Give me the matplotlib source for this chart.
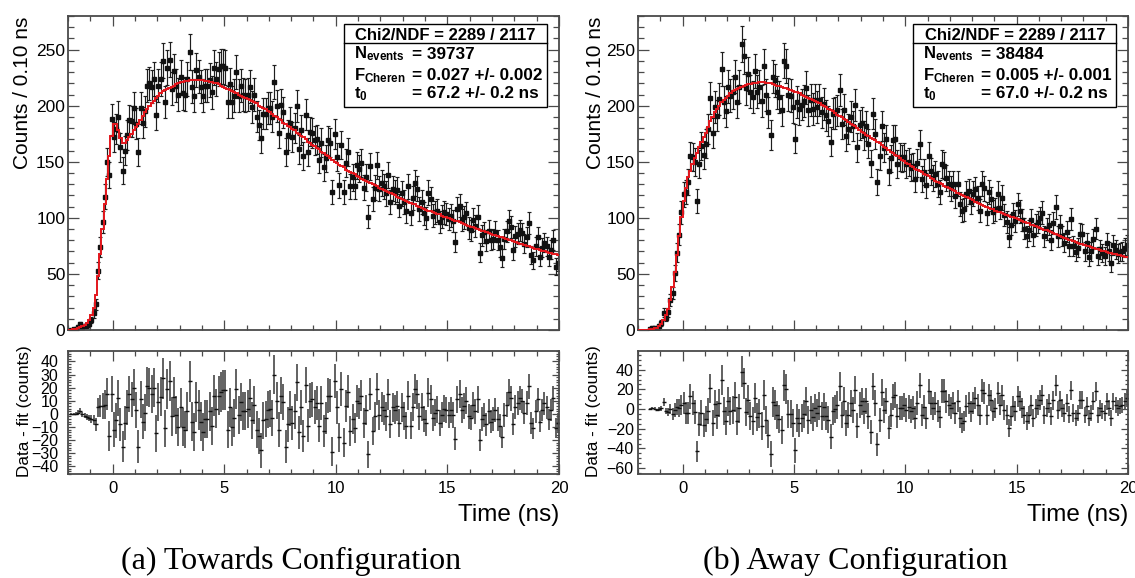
import numpy as np
import matplotlib
matplotlib.use("Agg")
import matplotlib.pyplot as plt
from matplotlib.ticker import MultipleLocator
from matplotlib.patches import Rectangle

plt.rcParams['font.family'] = ['Liberation Sans', 'DejaVu Sans']
plt.rcParams['mathtext.fontset'] = 'custom'
plt.rcParams['mathtext.rm'] = 'Liberation Sans'
plt.rcParams['mathtext.bf'] = 'Liberation Sans:bold'
plt.rcParams['mathtext.it'] = 'Liberation Sans:italic'

# histogram binning: 0.1 ns bins from -2 to 20 ns
bin_lo, bin_width, n_bins = -2.0, 0.1, 220

# ---- (a) Towards configuration ----
# fit curve, one value per bin (-1.95 ... 19.95)
towards_fit = [
    0.2, 0.4, 0.7, 1.1, 1.7, 2.5, 3.5, 4.8, 6.5, 9,
    13, 20, 31, 48, 68, 90, 112, 135, 155, 173,
    184, 184, 178, 171, 167, 167, 169, 172, 175, 178,
    181, 184, 187, 191, 194, 197, 200, 202, 204, 207,
    209, 211, 213, 214, 215, 216, 217, 218, 219, 220,
    221, 221, 222, 222, 223, 223, 223, 223, 223, 223,
    223, 222, 222, 221, 221, 220, 220, 219, 218, 217,
    216, 215, 214, 213, 212, 211, 210, 209, 208, 207,
    206, 205, 204, 203, 202, 200, 199, 198, 197, 195,
    194, 193, 191, 190, 188, 187, 185, 184, 182, 181,
    179, 178, 176, 175, 173, 172, 170, 168, 167, 165,
    164, 162, 161, 159, 158, 156, 155, 153, 152, 150,
    149, 147, 146, 145, 143, 142, 141, 140, 139, 137,
    136, 135, 134, 133, 132, 131, 130, 129, 128, 127,
    126, 125, 124, 123, 122, 121, 120, 119, 118, 117,
    116, 115, 114, 113, 112.5, 112, 111, 110, 109, 108,
    107, 106.5, 106, 105, 104, 103.5, 103, 102, 101, 100.5,
    100, 99, 98, 97.5, 97, 96, 95, 94.5, 94, 93,
    92, 91.5, 91, 90, 89, 88.5, 88, 87, 86.5, 86,
    85, 84.5, 84, 83, 82.5, 82, 81, 80.5, 80, 79,
    78.5, 78, 77, 76.5, 76, 75, 74.5, 74, 73, 72.5,
    72, 71, 70.5, 70, 69.5, 69, 68.5, 68, 67.5, 67,
]
# data - fit, first filled bin at -1.85 ns
towards_first = -1.85
towards_resid = [
    0, 0, 0, 1, 2.5, -0.5, -1.5, -2.5, -3.5, -4,
    -5, -8, 5, 6, 6, 7, 15, -17, 15, -12,
    -5, 12, -8, -25, -7, 5, 15, 11, 20, 3,
    -25, 11, -6, 1, 21, 20, 15, 20, -15, 9,
    13, 27, -11, 19, 25, -2, 13, -1, -10, 5,
    -10, -12, 2, 25, -6, -14, 9, 3, -6, -14,
    -4, -4, 2, -9, 14, 4, 14, 17, 18, 18,
    -12, 5, -10, -3, 19, -1, 9, 2, 2, 4,
    12, -5, 7, -12, -17, -28, -5, -4, 3, 4,
    -3, 30, 10, -12, 14, 9, -25, -8, 4, -7,
    2, 24, -14, 5, -17, 22, -9, 10, 11, 5,
    8, -9, 8, -13, -3, 14, 14, -29, 25, 5,
    -18, 19, -22, 6, 17, -13, -4, -11, 10, 8,
    14, -7, 3, -31, 15, -13, -2, 19, -1, 5,
    3, -2, 15, -8, 5, 3, 6, -7, 5, -2,
    -9, 14, -9, 5, 19, 15, -2, 5, -4, -7,
    16, 11, -3, 1, 3, -7, -1, 4, 3, -1,
    3, -1, -19, 11, 15, 3, 6, 10, -2, -3,
    7, 2, 11, -20, -4, -1, -8, 2, -6, -4,
    3, -4, -9, -18, -1, 7, 17, 12, -8, 5,
    8, 12, 10, 1, 8, 21, -7, -11, 2, 11,
    -6, 3, 8, 5, -4, 3, 12, -11, -7,
]
towards_stats = ["39737", "0.027 +/- 0.002", "67.2 +/- 0.2 ns"]

# ---- (b) Away configuration ----
away_fit = [
    0, 0.05, 0.1, 0.2, 0.4, 0.7, 1.0, 1.5, 2.2, 3.5,
    5.5, 8.5, 13, 19, 27, 38, 52, 67, 84, 101,
    115, 127, 136, 142, 148, 153, 158, 163, 168, 172,
    176, 181, 186, 190, 194, 197, 200, 203, 205, 207,
    209, 211, 213, 214, 215, 216, 217, 218, 218.5, 219,
    219.5, 220, 220, 220.5, 221, 221, 221, 220.5, 220, 220,
    219, 218.5, 218, 217.5, 217, 216, 215.5, 215, 214, 213,
    212.5, 212, 211, 210, 209, 208, 207, 206, 205, 204,
    203, 202, 201, 199.5, 198.5, 197.5, 196, 195, 193.5, 192,
    191, 189.5, 188.5, 187, 185.5, 184, 183, 181.5, 180, 178.5,
    177, 175.5, 174, 173, 171.5, 170, 169, 168, 166.5, 165,
    163.5, 162, 160.5, 159, 157.5, 156, 155, 153.5, 152, 150.5,
    149, 148, 146.5, 145, 144, 143, 141.5, 140.5, 139, 138,
    137, 135.5, 134.5, 133, 132, 131, 130, 128.5, 127.5, 126.5,
    125.5, 124.5, 123.5, 122.5, 121.5, 120.5, 119.5, 118.5, 117.5, 116.5,
    115.5, 114.5, 113.5, 112.5, 111.5, 110.5, 110, 109, 108, 107.5,
    106.5, 105.5, 105, 104, 103.5, 102.5, 102, 101, 100.5, 99.5,
    99, 98, 97, 96.5, 95.5, 95, 94, 93.5, 92.5, 92,
    91, 90.5, 89.5, 89, 88, 87, 86.5, 85.5, 84.5, 84,
    83, 82, 81.5, 80.5, 80, 79, 78.5, 77.5, 77, 76.5,
    76, 75, 74.5, 74, 73, 72.5, 72, 71, 70.5, 70,
    69.5, 69, 68.5, 68, 67.5, 67, 66.5, 66, 65.5, 65,
]
away_first = -1.45
away_resid = [
    0, 1, 0.5, -1, 0, 1, 7, -2, -3, 0,
    -5, -1, 2, 1, 4, 6, -4, -4, 13, 6,
    -3, -43, -15, -4, -16, -10, -2, 21, -14, 5,
    -6, 6, 30, -2, -12, 8, -2, -1, 12, -12,
    1, 38, 26, -3, 9, -7, -12, 11, -8, -4,
    -17, 14, -11, -26, -46, 7, 4, -6, -10, -21,
    24, 20, -5, -5, -14, -42, -9, -14, -9, -5,
    8, -11, -1, -8, 1, -4, 3, -7, 2, -7,
    -11, -28, -2, 0, 4, 23, -6, 8, -14, -6,
    6, -1, 19, -17, 4, 8, -2, 8, -7, -23,
    23, 6, -36, -11, 17, -1, 8, -19, -6, 12,
    14, -7, 1, 1, 4, -1, 2, -2, 1, -9,
    6, 24, -6, 2, -9, 18, 6, 1, 6, -2,
    -8, 18, 18, 8, 4, 1, 6, -4, 8, -9,
    -14, -12, 3, 6, -2, 6, 11, 4, -6, 19,
    16, -6, 14, 9, -2, 1, 16, 4, 14, -1,
    -6, -19, -7, 3, -2, 13, 8, 1, -6, -12,
    -6, 4, -9, 1, 4, 9, 14, -6, 1, 6,
    -7, 9, 24, -1, 9, 1, -4, 6, -6, 19,
    -4, -9, -4, 9, 9, -6, 3, -9, -4, 8,
    18, -6, 1, -2, -4, 8, 1, -9, 8, 4,
    1, 3, 4, 8, 11,
]
away_stats = ["38484", "0.005 +/- 0.001", "67.0 +/- 0.2 ns"]

chi2_text = "Chi2/NDF = 2289 / 2117"
stat_names = [r"$\mathbf{N}_{\mathbf{events}}$", r"$\mathbf{F}_{\mathbf{Cheren}}$",
              r"$\mathbf{t}_{\mathbf{0}}$"]

FRAME = "#4a4a4a"
RED = "#e3161c"


def style_axes(ax, ymajor, yminor, ylen=(8, 4)):
    for s in ax.spines.values():
        s.set_color(FRAME)
        s.set_linewidth(1.3)
    ax.set_xlim(-2, 20)
    ax.xaxis.set_major_locator(MultipleLocator(5))
    ax.xaxis.set_minor_locator(MultipleLocator(1))
    ax.yaxis.set_major_locator(MultipleLocator(ymajor))
    ax.yaxis.set_minor_locator(MultipleLocator(yminor))
    ax.tick_params(which="both", direction="in", top=True, right=True, color=FRAME, width=0.9)
    ax.tick_params(axis="x", which="major", length=7)
    ax.tick_params(axis="x", which="minor", length=3.5)
    ax.tick_params(axis="y", which="major", length=ylen[0])
    ax.tick_params(axis="y", which="minor", length=ylen[1])


def draw_panel(ax_top, ax_res, fit, first, resid, stats, res_lim, res_major, res_minor, res_pad):
    fit = np.asarray(fit, dtype=float)
    resid = np.asarray(resid, dtype=float)
    edges = bin_lo + bin_width * np.arange(n_bins + 1)
    centers = edges[:-1] + bin_width / 2
    i0 = int(round((first - centers[0]) / bin_width))
    t = centers[i0:i0 + len(resid)]
    data = fit[i0:i0 + len(resid)] + resid
    err = np.sqrt(np.clip(data, 0, None))

    # main histogram with fit
    ax_top.errorbar(t, data, yerr=err, fmt="s", ms=2.2, mfc="#111111", mec="#111111",
                    ecolor="#1e1e1e", elinewidth=0.85, capsize=1.4, capthick=0.85, zorder=2)
    ax_top.stairs(fit, edges, baseline=None, color=RED, lw=1.4, zorder=3)
    ax_top.set_ylim(0, 280)
    style_axes(ax_top, 50, 10)
    ax_top.tick_params(axis="x", labelbottom=False)
    ax_top.tick_params(axis="y", labelsize=12.5, pad=2)

    # stats box
    box = Rectangle((0.562, 0.710), 0.4135, 0.2645, transform=ax_top.transAxes,
                    facecolor="white", edgecolor="black", lw=1.0, zorder=5)
    ax_top.add_patch(box)
    ax_top.plot([0.562, 0.9755], [0.914, 0.914], transform=ax_top.transAxes,
                color="black", lw=1.0, zorder=6)
    ax_top.text(0.769, 0.925, chi2_text, transform=ax_top.transAxes, ha="center",
                va="baseline", fontsize=12, fontweight="bold", zorder=7)
    rows_y = [0.8646, 0.7962, 0.7373]
    for name, val, y in zip(stat_names, stats, rows_y):
        ax_top.text(0.582, y, name, transform=ax_top.transAxes, ha="left", va="baseline",
                    fontsize=12, zorder=7)
        ax_top.text(0.700, y, "= " + val, transform=ax_top.transAxes, ha="left",
                    va="baseline", fontsize=12.3, fontweight="bold", zorder=7)

    # residual panel
    ax_res.errorbar(t, resid, yerr=err, fmt="_", ms=3.0, mew=1.0, color="#111111",
                    ecolor="#555555", elinewidth=1.3, capsize=0, zorder=2)
    ax_res.set_ylim(*res_lim)
    style_axes(ax_res, res_major, res_minor, ylen=(5, 2.5))
    ax_res.tick_params(axis="x", labelsize=12, pad=5)
    ax_res.tick_params(axis="y", labelsize=11.5, pad=res_pad)


fig = plt.figure(figsize=(11.35, 5.78), dpi=100)
ax_a = fig.add_axes([0.0599, 0.4291, 0.4326, 0.5432])
ax_ar = fig.add_axes([0.0599, 0.1799, 0.4326, 0.2128])
ax_b = fig.add_axes([0.5621, 0.4291, 0.4317, 0.5432])
ax_br = fig.add_axes([0.5621, 0.1799, 0.4317, 0.2128])

draw_panel(ax_a, ax_ar, towards_fit, towards_first, towards_resid, towards_stats,
           (-46, 48), 10, 2, 7)
draw_panel(ax_b, ax_br, away_fit, away_first, away_resid, away_stats,
           (-66, 59), 20, 5, 3)

for x_lab, x_res, x_right in [(0.0198, 0.022, 0.4925), (0.525, 0.523, 0.9938)]:
    fig.text(x_lab, 0.9706, "Counts / 0.10 ns", rotation=90, ha="center", va="top", fontsize=15)
    fig.text(x_res, 0.289, "Data - fit (counts)", rotation=90, ha="center", va="center",
             fontsize=12.3)
    fig.text(x_right, 0.109, "Time (ns)", ha="right", va="center", fontsize=17.5)

fig.text(0.2564, 0.0294, "(a) Towards Configuration", ha="center", va="center",
         fontsize=23, family=["Liberation Serif", "DejaVu Serif"])
fig.text(0.754, 0.0294, "(b) Away Configuration", ha="center", va="center",
         fontsize=23, family=["Liberation Serif", "DejaVu Serif"])

fig.savefig("out.png", dpi=100)
